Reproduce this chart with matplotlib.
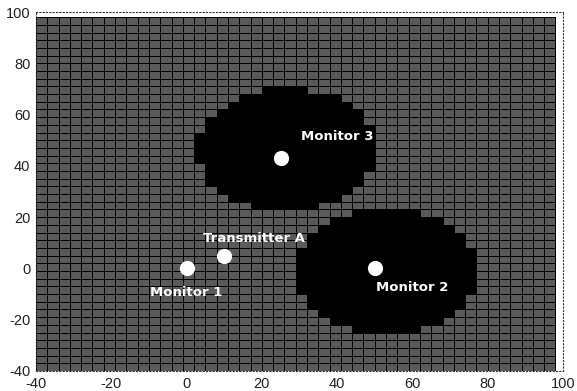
import numpy as np
import matplotlib
matplotlib.use("Agg")
import matplotlib.pyplot as plt
from matplotlib.colors import ListedColormap

plt.rcParams["axes.unicode_minus"] = False

# grid of 3x3 cells, lower-left corners from -40 to 95
cell = 3
edges = np.arange(-40, 99, cell)

# covered zones (centre x, centre y, radius)
zone_x = [26.5, 53.0]
zone_y = [46.5, -1.0]
zone_r = [24.0, 24.0]

# points and labels
pt_names = ["Monitor 1", "Transmitter A", "Monitor 2", "Monitor 3"]
pt_x = [0, 10, 50, 25]
pt_y = [0, 5, 0, 43]
lab_dx = [0, 8, 10, 15]
lab_dy = [-9.5, 6.5, -7.5, 8.5]

xc = edges[:-1] + cell / 2
yc = edges[:-1] + cell / 2
X, Y = np.meshgrid(xc, yc)
C = np.zeros_like(X)
for cx, cy, r in zip(zone_x, zone_y, zone_r):
    C[np.hypot(X - cx, Y - cy) <= r] = 1

fig = plt.figure(figsize=(5.77, 3.91), dpi=100)
ax = fig.add_axes([0.0624, 0.0512, 0.9133, 0.918])
cmap = ListedColormap(["#5a5a5a", "#000000"])
ax.pcolormesh(edges, edges, C, cmap=cmap, vmin=0, vmax=1,
              edgecolors="black", linewidth=0.55)

ax.scatter(pt_x, pt_y, s=120, color="white", zorder=3, linewidths=0)
for name, x, y, dx, dy in zip(pt_names, pt_x, pt_y, lab_dx, lab_dy):
    ax.text(x + dx, y + dy, name, color="white", fontsize=9.5, fontweight="bold",
            family="DejaVu Sans", ha="center", va="center", zorder=4)

ax.set_xlim(-40, 100)
ax.set_ylim(-40, 100)
ax.set_xticks(np.arange(-40, 101, 20))
ax.set_yticks(np.arange(-40, 101, 20))
ax.tick_params(length=0, labelsize=10.5, labelcolor="#222222", pad=4)
for lab in ax.get_xticklabels() + ax.get_yticklabels():
    lab.set_family("Liberation Sans")
for s in ax.spines.values():
    s.set_linestyle((0, (1, 2)))
    s.set_linewidth(0.8)
    s.set_color("#333333")

fig.savefig("out.png", dpi=100)
